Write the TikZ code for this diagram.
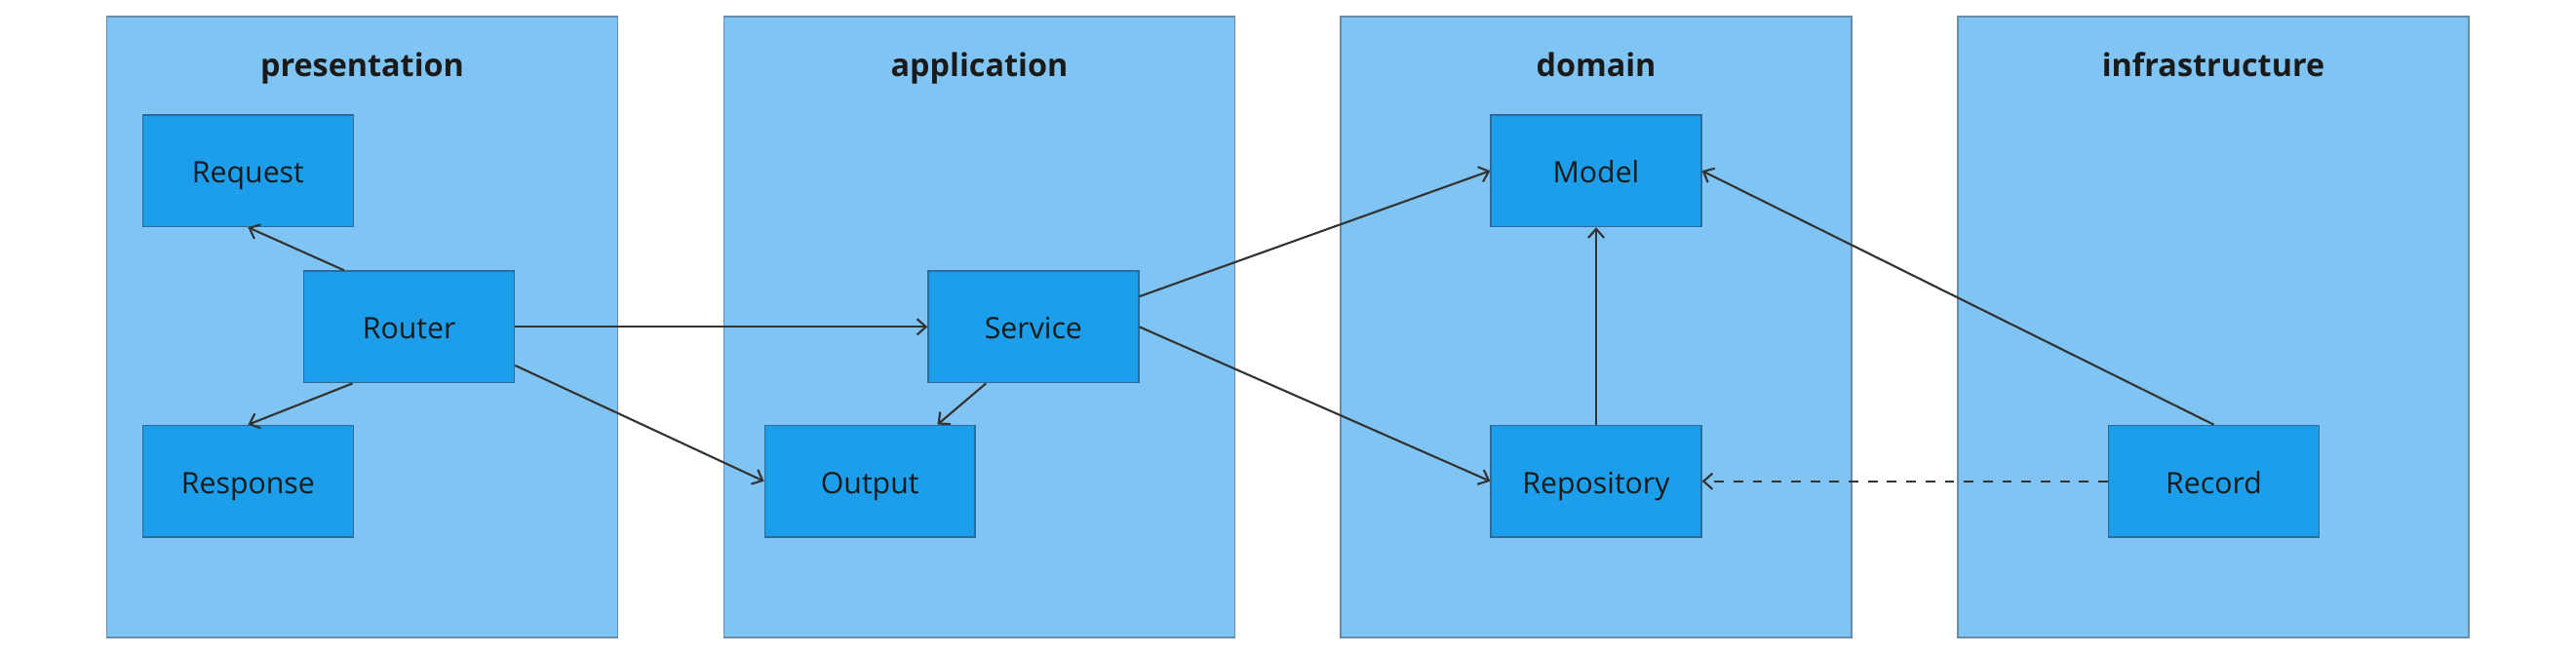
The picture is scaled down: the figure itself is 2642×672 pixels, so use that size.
\documentclass[tikz,border=0pt]{standalone}
\usepackage{fontspec}
\setmainfont{Open Sans}
\usetikzlibrary{arrows.meta}
\definecolor{layerfill}{HTML}{7FC4F2}
\definecolor{layerdraw}{HTML}{6A8CA8}
\definecolor{boxfill}{HTML}{1D9EEB}
\definecolor{boxdraw}{HTML}{2B6A99}
\definecolor{linecol}{HTML}{333333}
\definecolor{textcol}{HTML}{1A1A1A}
\begin{document}
\begin{tikzpicture}[x=0.01cm,y=-0.01cm,>={Straight Barb[length=2.6pt,width=4.6pt]},
    layer/.style={fill=layerfill,draw=layerdraw,line width=0.4pt},
    layertitle/.style={font=\fontsize{9.2}{11}\selectfont\bfseries,text=textcol,
        text height=1.33ex,text depth=0pt},
    comp/.style={fill=boxfill,draw=boxdraw,line width=0.4pt,minimum width=2.157cm,
        minimum height=1.146cm,inner sep=0pt,font=\fontsize{8.6}{10}\selectfont,text=textcol,
        text height=1.33ex,text depth=0pt},
    dep/.style={->,draw=linecol,line width=0.6pt}]
    \useasboundingbox (0,0) rectangle (2642,672);
    % layers
    \foreach \x/\name in {109.5/presentation,742.5/application,1375/domain,2008/infrastructure}{
        \draw[layer] (\x,17) rectangle +(524,637);
        \node[layertitle] (\name) at (\x+262,66) {\name};
    }
    % components
    \node[comp] (request) at (254.4,175.2) {Request};
    \node[comp] (router) at (419.6,335.3) {Router};
    \node[comp] (response) at (254.4,493.7) {Response};
    \node[comp] (service) at (1059.9,335.3) {Service};
    \node[comp] (output) at (892.2,493.7) {Output};
    \node[comp] (model) at (1637,175.2) {Model};
    \node[comp] (repository) at (1637,493.7) {Repository};
    \node[comp] (record) at (2270.5,493.7) {Record};
    % dependencies
    \draw[dep] (router.139) -- (request.south);
    \draw[dep] (router.225) -- (response.north);
    \draw[dep] (router) -- (service);
    \draw[dep] (router.-20) -- (output.west);
    \draw[dep] (service.230) -- (output.40);
    \draw[dep] (service.16) -- (model.west);
    \draw[dep] (service.east) -- (repository.west);
    \draw[dep] (repository) -- (model);
    \draw[dep] (record.north) -- (model.east);
    \draw[dep,dash pattern=on 2.8pt off 2.8pt] (record) -- (repository);
\end{tikzpicture}
\end{document}
